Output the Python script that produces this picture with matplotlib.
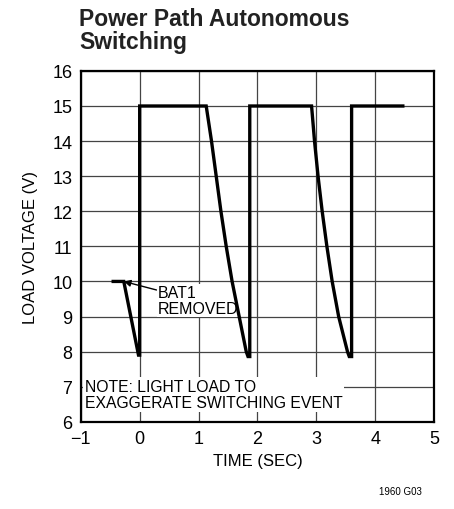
import matplotlib
matplotlib.use("Agg")
import matplotlib.pyplot as plt

# data
time_s = [-0.45, -0.27, -0.02, 0.0, 0.0, 1.13, 1.22, 1.30, 1.38, 1.47, 1.57, 1.69, 1.81, 1.84,
          1.87, 1.87, 2.92, 2.97, 3.03, 3.10, 3.18, 3.27, 3.38, 3.53, 3.56, 3.60, 3.60, 4.47]
load_v = [10.0, 10.0, 7.9, 7.9, 15.0, 15.0, 14.0, 13.0, 12.0, 11.0, 10.0, 9.0, 8.0, 7.86,
          7.86, 15.0, 15.0, 14.0, 13.0, 12.0, 11.0, 10.0, 9.0, 8.0, 7.86, 7.86, 15.0, 15.0]
xticks = [-1, 0, 1, 2, 3, 4, 5]
yticks = [6, 7, 8, 9, 10, 11, 12, 13, 14, 15, 16]
xtick_labels = ["\u22121", "0", "1", "2", "3", "4", "5"]

plt.rcParams['font.family'] = ['Liberation Sans', 'DejaVu Sans']

fig = plt.figure(figsize=(4.54, 5.10), dpi=100)
ax = fig.add_axes([0.178, 0.171, 0.778, 0.688])

ax.plot(time_s, load_v, color='black', linewidth=2.4, solid_joinstyle='miter', zorder=3)

ax.set_xlim(-1, 5)
ax.set_ylim(6, 16)
ax.set_xticks(xticks)
ax.set_xticklabels(xtick_labels, fontsize=13)
ax.set_yticks(yticks)
ax.set_yticklabels([str(v) for v in yticks], fontsize=13)
ax.tick_params(length=0, pad=6)
ax.grid(True, color='#444444', linewidth=0.9)
for s in ax.spines.values():
  s.set_linewidth(1.6)

ax.set_xlabel("TIME (SEC)", fontsize=12, labelpad=4)
ax.set_ylabel("LOAD VOLTAGE (V)", fontsize=12, labelpad=10)

fig.text(0.174, 0.985, "Power Path Autonomous\nSwitching", fontsize=16.5, fontweight='bold',
         color='#222222', va='top', ha='left', linespacing=1.0)

ax.annotate("BAT1\nREMOVED", xy=(-0.27, 10.0), xytext=(0.3, 9.45),
            fontsize=11.5, va='center', ha='left', linespacing=1.1,
            bbox=dict(boxstyle='square,pad=0.05', fc='white', ec='none'),
            arrowprops=dict(arrowstyle='-|>', color='black', lw=1.0, shrinkA=0, shrinkB=0,
                            mutation_scale=10),
            zorder=2)

ax.text(-0.93, 6.78, "NOTE: LIGHT LOAD TO\nEXAGGERATE SWITCHING EVENT", fontsize=11.3,
        va='center', ha='left', linespacing=1.15,
        bbox=dict(boxstyle='square,pad=0.1', fc='white', ec='none'), zorder=2)

fig.text(0.93, 0.035, "1960 G03", fontsize=7, ha='right', va='center')

plt.savefig("out.png", dpi=100)
